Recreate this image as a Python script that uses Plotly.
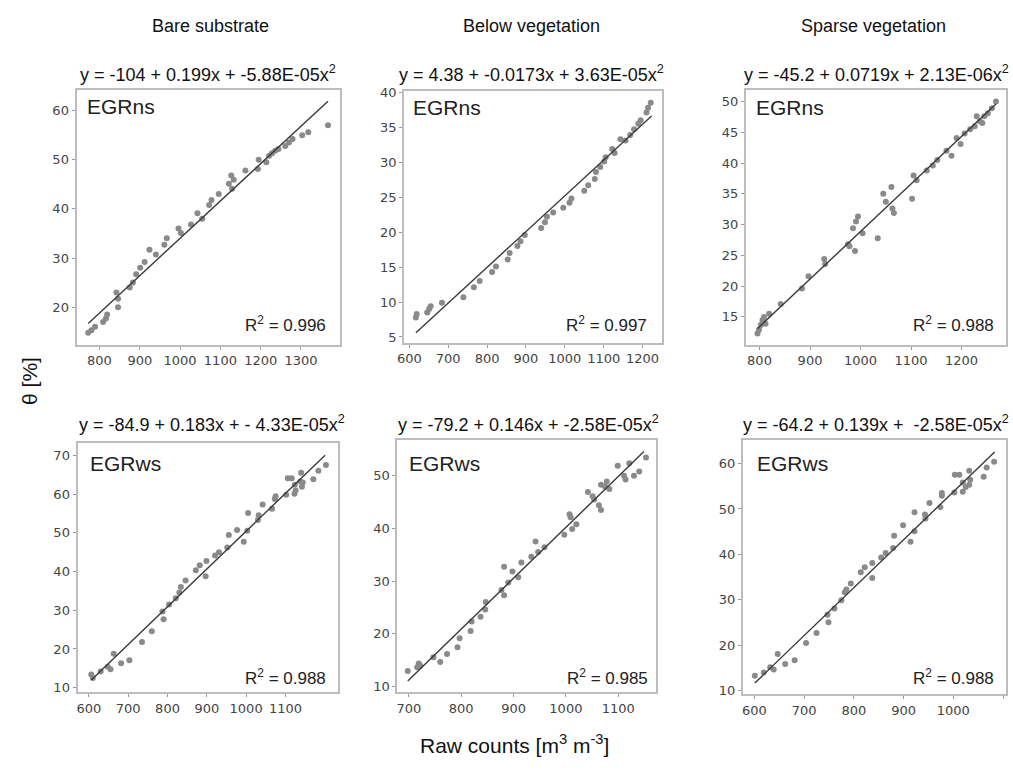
import plotly.graph_objects as go

W, H = 1013, 772

# ---------------- data ----------------
col_titles = ["Bare substrate", "Below vegetation", "Sparse vegetation"]
panel_labels = ["EGRns", "EGRns", "EGRns", "EGRws", "EGRws", "EGRws"]
equations = [
    "y = -104 + 0.199x + -5.88E-05x<sup>2</sup>",
    "y = 4.38 + -0.0173x + 3.63E-05x<sup>2</sup>",
    "y = -45.2 + 0.0719x + 2.13E-06x<sup>2</sup>",
    "y = -84.9 + 0.183x + - 4.33E-05x<sup>2</sup>",
    "y = -79.2 + 0.146x + -2.58E-05x<sup>2</sup>",
    "y = -64.2 + 0.139x + \u00a0-2.58E-05x<sup>2</sup>",
]
r2_values = ["0.996", "0.997", "0.988", "0.988", "0.985", "0.988"]

bs_ns_x = [772, 780, 789, 809, 816, 819, 842, 846, 846, 875, 883, 891, 901, 912, 924, 940, 961, 967, 996, 1002,
           1027, 1043, 1055, 1072, 1078, 1096, 1121, 1127, 1133, 1129, 1162, 1193, 1195, 1214, 1221, 1228, 1236,
           1244, 1261, 1270, 1279, 1303, 1318, 1367]
bs_ns_y = [14.8, 15.3, 16.0, 17.0, 17.7, 18.5, 23.0, 21.7, 20.0, 24.0, 25.0, 26.7, 28.0, 29.2, 31.7, 30.7, 32.7,
           34.0, 36.0, 35.1, 36.8, 39.1, 38.0, 40.8, 41.8, 43.0, 45.1, 46.8, 45.9, 44.1, 47.8, 48.1, 50.0, 49.5,
           50.8, 51.3, 51.8, 52.2, 52.8, 53.5, 54.2, 55.0, 55.6, 57.0]
bs_ns_fit_x = [772, 1367]
bs_ns_fit_y = [16.7, 61.9]

bv_ns_x = [617, 619, 646, 651, 655, 684, 739, 766, 781, 813, 823, 853, 858, 878, 886, 897, 939, 949, 954, 970,
           996, 1012, 1017, 1050, 1060, 1077, 1080, 1091, 1101, 1105, 1122, 1128, 1143, 1156, 1168, 1178, 1189,
           1195, 1210, 1214, 1221]
bv_ns_y = [7.8, 8.3, 8.5, 9.0, 9.4, 9.9, 10.7, 12.1, 13.0, 14.3, 15.1, 16.1, 17.0, 18.0, 18.7, 19.6, 20.6, 21.4,
           22.2, 22.8, 23.5, 24.2, 24.8, 25.9, 26.7, 27.6, 28.6, 29.3, 30.1, 30.7, 31.9, 31.3, 33.3, 33.1, 33.9,
           34.7, 35.5, 36.0, 37.1, 37.8, 38.5]
bv_ns_fit_x = [617, 1223]
bv_ns_fit_y = [5.6, 36.6]

sv_ns_x = [796, 799, 803, 806, 809, 812, 819, 842, 884, 897, 928, 930, 975, 978, 985, 989, 991, 995, 1004, 1034,
           1045, 1050, 1061, 1063, 1066, 1102, 1105, 1111, 1131, 1143, 1152, 1170, 1180, 1190, 1198, 1206, 1217,
           1226, 1230, 1236, 1241, 1245, 1252, 1260, 1268]
sv_ns_y = [12.3, 12.9, 13.7, 14.5, 15.0, 13.9, 15.5, 17.1, 19.6, 21.6, 24.4, 23.6, 26.8, 26.5, 29.4, 25.7, 30.5,
           31.3, 28.6, 27.8, 35.0, 33.7, 36.1, 32.6, 31.9, 34.2, 38.0, 37.2, 38.8, 39.6, 40.5, 42.0, 41.2, 44.1,
           43.1, 44.8, 45.5, 46.0, 47.6, 46.8, 46.5, 47.6, 48.1, 48.9, 50.0]
sv_ns_fit_x = [796, 1268]
sv_ns_fit_y = [13.1, 49.6]

bs_ws_x = [606, 610, 630, 648, 655, 663, 682, 703, 735, 760, 787, 790, 804, 821, 830, 834, 846, 872, 882, 897,
           899, 921, 931, 952, 956, 977, 994, 1005, 1003, 1032, 1030, 1042, 1066, 1073, 1075, 1102, 1106, 1116,
           1123, 1124, 1126, 1138, 1140, 1142, 1144, 1171, 1184, 1203]
bs_ws_y = [13.4, 12.5, 14.2, 15.4, 14.8, 18.8, 16.3, 17.1, 21.8, 24.6, 29.7, 27.7, 31.5, 33.1, 34.6, 36.0, 37.7,
           40.3, 41.6, 38.8, 42.7, 44.1, 45.0, 46.2, 49.4, 50.7, 47.7, 55.1, 50.5, 54.5, 53.3, 57.3, 56.2, 58.7,
           59.4, 59.8, 64.1, 64.1, 60.1, 62.4, 60.9, 63.2, 65.5, 61.9, 63.0, 63.8, 66.0, 67.5]
bs_ws_fit_x = [606, 1201]
bs_ws_fit_y = [12.0, 70.0]

bv_ws_x = [698, 716, 719, 722, 747, 760, 773, 793, 797, 818, 820, 837, 846, 847, 877, 882, 882, 890, 898, 909,
           915, 934, 942, 947, 959, 997, 1007, 1009, 1012, 1020, 1042, 1051, 1054, 1063, 1067, 1067, 1075, 1078,
           1083, 1099, 1111, 1114, 1121, 1130, 1140, 1153]
bv_ws_y = [12.9, 13.6, 14.3, 13.9, 15.5, 14.6, 16.1, 17.4, 19.1, 20.5, 22.3, 23.2, 24.6, 26.0, 28.3, 27.3, 32.7,
           29.7, 31.8, 30.7, 33.5, 34.6, 37.5, 35.5, 36.4, 38.8, 42.7, 42.1, 39.9, 40.8, 46.9, 46.1, 45.5, 44.4,
           43.5, 48.3, 47.9, 48.9, 47.5, 51.9, 50.0, 49.3, 52.4, 50.0, 50.8, 53.5]
bv_ws_fit_x = [698, 1149]
bv_ws_fit_y = [11.0, 54.6]

sv_ws_x = [601, 619, 632, 639, 647, 662, 681, 704, 725, 747, 749, 761, 775, 782, 785, 794, 814, 822, 837, 837,
           855, 864, 879, 881, 899, 914, 922, 922, 944, 943, 952, 974, 977, 977, 1002, 1003, 1012, 1019, 1019,
           1025, 1032, 1032, 1034, 1061, 1067, 1082]
sv_ws_y = [13.3, 14.0, 15.2, 14.7, 18.1, 15.9, 16.7, 20.5, 22.7, 26.7, 25.1, 28.1, 29.9, 31.7, 32.3, 33.6, 36.1,
           37.2, 34.8, 38.1, 39.3, 40.3, 41.4, 44.1, 46.4, 42.8, 49.3, 45.1, 47.9, 48.8, 51.3, 50.4, 52.9, 53.5,
           53.6, 57.5, 57.5, 53.8, 55.8, 54.8, 55.3, 58.4, 56.4, 57.1, 59.1, 60.4]
sv_ws_fit_x = [601, 1083]
sv_ws_fit_y = [11.7, 62.5]

x_ticks = [[800, 900, 1000, 1100, 1200, 1300], [600, 700, 800, 900, 1000, 1100, 1200],
           [800, 900, 1000, 1100, 1200], [600, 700, 800, 900, 1000, 1100],
           [700, 800, 900, 1000, 1100], [600, 700, 800, 900, 1000, 1100]]
y_ticks = [[20, 30, 40, 50, 60], [5, 10, 15, 20, 25, 30, 35, 40],
           [15, 20, 25, 30, 35, 40, 45, 50], [10, 20, 30, 40, 50, 60, 70],
           [10, 20, 30, 40, 50], [10, 20, 30, 40, 50, 60]]

# ---------------- layout (pixels) ----------------
boxes = [(70, 335, 85, 343), (400, 660, 86, 341), (744, 1006, 85, 343),
         (71, 333, 443, 695), (393, 654, 440, 695), (741, 1006, 440, 697)]
x_ranges = [[743, 1396], [587, 1251], [773, 1288], [571, 1233], [678, 1173], [577, 1106]]
y_ranges = [[12.4, 64.2], [4.2, 40.2], [10.5, 51.9], [8.9, 73.1], [8.9, 56.75], [9.3, 65.1]]

series = [(bs_ns_x, bs_ns_y, bs_ns_fit_x, bs_ns_fit_y), (bv_ns_x, bv_ns_y, bv_ns_fit_x, bv_ns_fit_y),
          (sv_ns_x, sv_ns_y, sv_ns_fit_x, sv_ns_fit_y), (bs_ws_x, bs_ws_y, bs_ws_fit_x, bs_ws_fit_y),
          (bv_ws_x, bv_ws_y, bv_ws_fit_x, bv_ws_fit_y), (sv_ws_x, sv_ws_y, sv_ws_fit_x, sv_ws_fit_y)]

eq_pos = [(202, 68), (528, 68), (876, 68), (206, 423), (525, 423), (875, 423)]
lab_pos = [(79, 102), (407, 103), (752, 103), (82, 463), (403, 463), (753, 463)]
r2_pos = [(323, 322), (646, 322), (996, 322), (323, 680), (647, 680), (996, 680)]
col_pos = [205, 528, 873]

TXT = "Liberation Sans, Arial, sans-serif"
TICK = "DejaVu Sans, sans-serif"

def px(x):
    return x / W

def py(y):
    return 1 - y / H

fig = go.Figure()
layout = dict(width=W, height=H, margin=dict(l=0, r=0, t=0, b=0),
              paper_bgcolor="white", plot_bgcolor="white", showlegend=False)

for i, (sx, sy, fx, fy) in enumerate(series):
    n = "" if i == 0 else str(i + 1)
    fig.add_trace(go.Scatter(x=sx, y=sy, mode="markers", xaxis="x" + n, yaxis="y" + n,
                             marker=dict(size=6, color="#8a8a8a", line=dict(width=0)),
                             hoverinfo="skip"))
    fig.add_trace(go.Scatter(x=fx, y=fy, mode="lines", xaxis="x" + n, yaxis="y" + n,
                             line=dict(color="#3a3a3a", width=1.4), hoverinfo="skip"))
    x0, x1, y0, y1 = boxes[i]
    common = dict(showline=True, mirror=True, linecolor="#bdbdbd", linewidth=2,
                  showgrid=False, zeroline=False, ticks="outside", ticklen=3,
                  tickcolor="#9a9a9a", tickwidth=1,
                  tickfont=dict(family=TICK, size=13, color="#444444"))
    layout["xaxis" + n] = dict(domain=[px(x0), px(x1)], range=x_ranges[i], anchor="y" + n,
                               tickmode="array", tickvals=x_ticks[i], **common)
    layout["yaxis" + n] = dict(domain=[py(y1), py(y0)], range=y_ranges[i], anchor="x" + n,
                               tickmode="array", tickvals=y_ticks[i], **common)

ann = []
for i in range(6):
    ann.append(dict(text=equations[i], x=px(eq_pos[i][0]), y=py(eq_pos[i][1]), xref="paper", yref="paper",
                    xanchor="center", yanchor="middle", showarrow=False,
                    font=dict(family=TXT, size=18, color="#111111")))
    ann.append(dict(text=panel_labels[i], x=px(lab_pos[i][0]), y=py(lab_pos[i][1]), xref="paper", yref="paper",
                    xanchor="left", yanchor="middle", showarrow=False,
                    font=dict(family=TXT, size=21, color="#222222")))
    ann.append(dict(text="R<sup>2</sup> = " + r2_values[i], x=px(r2_pos[i][0]), y=py(r2_pos[i][1]),
                    xref="paper", yref="paper", xanchor="right", yanchor="middle", showarrow=False,
                    font=dict(family=TXT, size=17, color="#222222")))
for j in range(3):
    ann.append(dict(text=col_titles[j], x=px(col_pos[j]), y=py(20), xref="paper", yref="paper",
                    xanchor="center", yanchor="middle", showarrow=False,
                    font=dict(family=TXT, size=18, color="#111111")))
ann.append(dict(text="\u03b8 [%]", x=px(22), y=py(380), xref="paper", yref="paper", textangle=-90,
                xanchor="center", yanchor="middle", showarrow=False,
                font=dict(family=TXT, size=21, color="#111111")))
ann.append(dict(text="Raw counts [m<sup>3</sup> m<sup>-3</sup>]", x=px(511), y=py(748), xref="paper",
                yref="paper", xanchor="center", yanchor="middle", showarrow=False,
                font=dict(family=TXT, size=21, color="#111111")))
layout["annotations"] = ann
fig.update_layout(**layout)

fix_js = (
    "document.documentElement.style.margin='0';"
    "document.body.style.margin='0';document.body.style.overflow='hidden';"
    "var d=document.getElementsByClassName('plotly-graph-div')[0];"
    "d.style.position='fixed';d.style.left='0px';d.style.top='0px';"
)
fig.write_html("out.html", config={"displayModeBar": False}, post_script=fix_js)
